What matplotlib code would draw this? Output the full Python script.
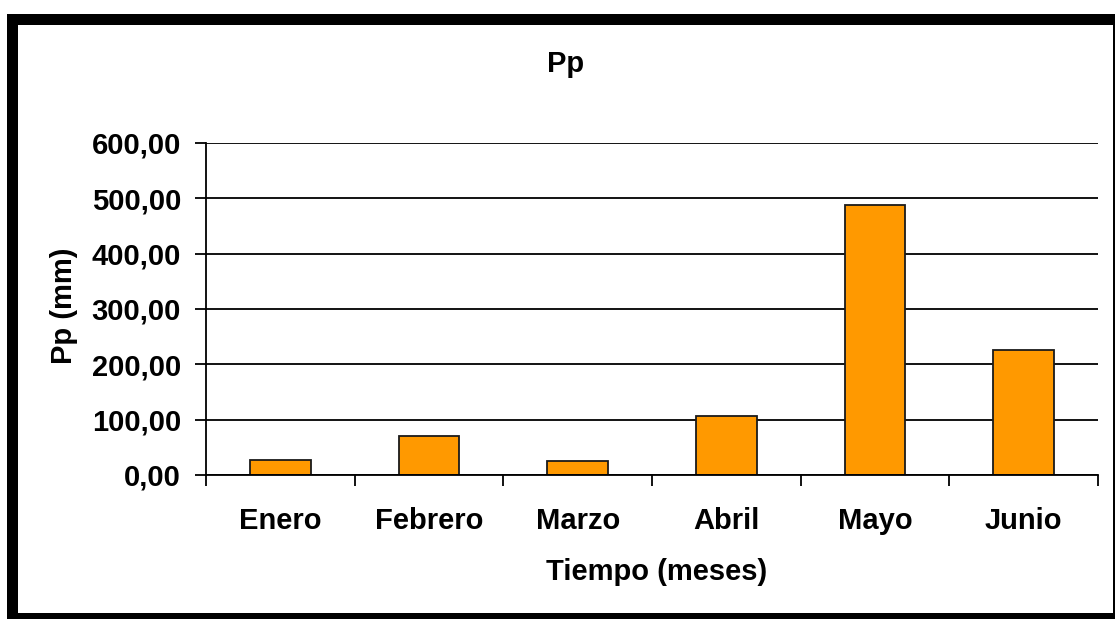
import matplotlib
matplotlib.use("Agg")
import matplotlib.pyplot as plt
from matplotlib.patches import Rectangle
from matplotlib.ticker import FuncFormatter

meses = ["Enero", "Febrero", "Marzo", "Abril", "Mayo", "Junio"]
pp_mm = [28, 71, 25, 107, 488, 226]
y_ticks = [0, 100, 200, 300, 400, 500, 600]

W, H = 1115, 619
FS = 21
plt.rcParams["font.family"] = ["Liberation Sans", "DejaVu Sans"]
plt.rcParams["font.weight"] = "bold"

fig = plt.figure(figsize=(W / 100, H / 100), dpi=100, facecolor="white")

# marco negro alrededor del gráfico (coordenadas en píxeles)
def px_rect(x0, y0, x1, y1, color):
    return Rectangle((x0 / W, 1 - y1 / H), (x1 - x0) / W, (y1 - y0) / H,
                     transform=fig.transFigure, facecolor=color,
                     edgecolor="none", zorder=-10)

fig.patches.append(px_rect(7, 14, 1115, 619, "black"))
fig.patches.append(px_rect(18, 25, 1113, 613, "white"))

ax = fig.add_axes([206 / W, 1 - 475 / H, (1098 - 206) / W, (475 - 143) / H])
ax.set_facecolor("none")

x = range(len(meses))
ax.bar(x, pp_mm, width=0.41, color="#FF9900", edgecolor="#1a1a1a",
       linewidth=1.3, zorder=3)

ax.set_xlim(-0.5, len(meses) - 0.5)
ax.set_ylim(0, 600)
ax.set_yticks(y_ticks)
ax.yaxis.set_major_formatter(FuncFormatter(lambda v, _: f"{v:.2f}".replace(".", ",")))
ax.grid(axis="y", color="black", linewidth=1.3, zorder=0)

# ticks en los límites de categoría, etiquetas en el centro
ax.set_xticks([i - 0.5 for i in range(len(meses) + 1)])
ax.set_xticklabels([])
ax.set_xticks(list(x), minor=True)
ax.set_xticklabels(meses, minor=True, fontsize=FS, fontweight="bold")
ax.tick_params(axis="x", which="major", length=8, width=1.3, direction="out")
ax.tick_params(axis="x", which="minor", length=0, pad=23)
ax.tick_params(axis="y", length=8, width=1.3, pad=10, labelsize=FS)
for lab in ax.get_yticklabels():
    lab.set_fontweight("bold")

for s in ("top", "right"):
    ax.spines[s].set_visible(False)
for s in ("left", "bottom"):
    ax.spines[s].set_linewidth(1.3)
    ax.spines[s].set_zorder(4)

fig.text(566 / W, 1 - 64 / H, "Pp", ha="center", va="center",
         fontsize=FS, fontweight="bold")
fig.text(64 / W, 1 - 306 / H, "Pp (mm)", ha="center", va="center",
         rotation=90, fontsize=FS, fontweight="bold")
fig.text(657 / W, 1 - 572 / H, "Tiempo (meses)", ha="center", va="center",
         fontsize=FS, fontweight="bold")

fig.savefig("out.png", dpi=100)
